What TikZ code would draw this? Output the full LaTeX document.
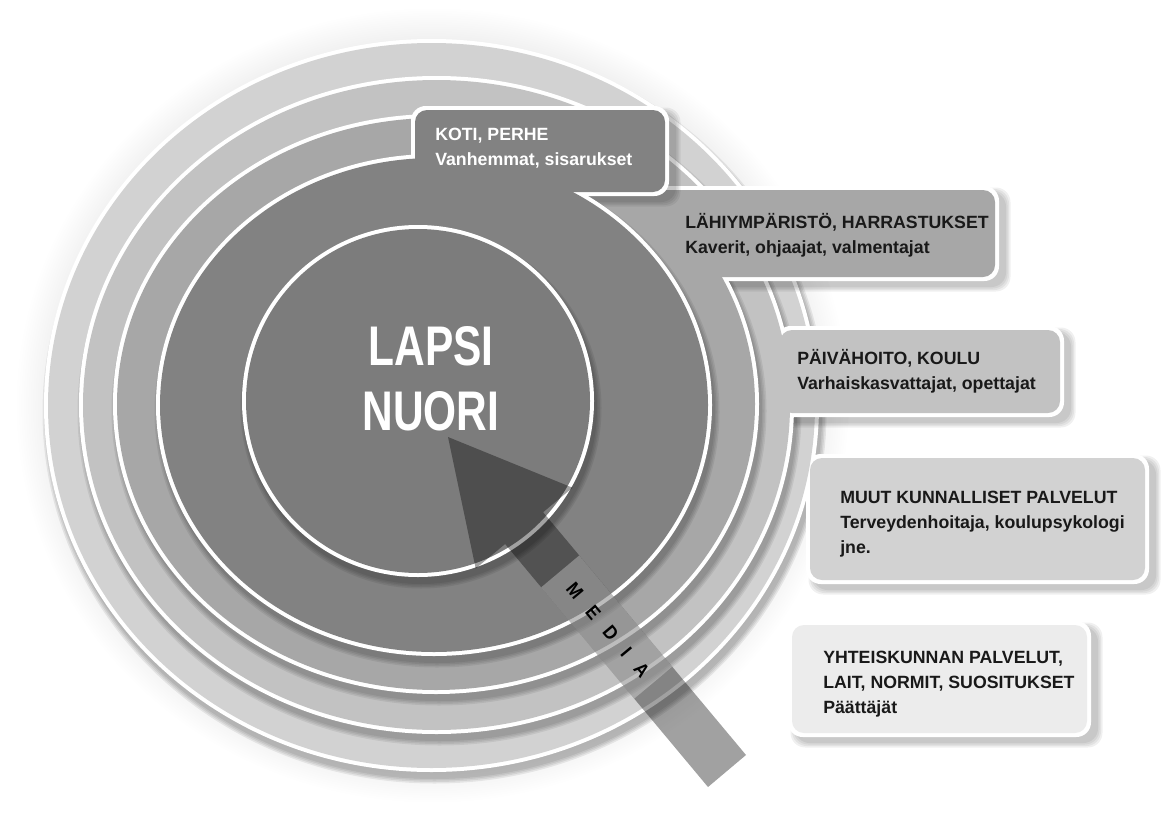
\documentclass[tikz,border=0pt]{standalone}
\usepackage{fontspec}
\setmainfont{Liberation Sans}
\newfontfamily\boxfont{Liberation Sans}
\newfontfamily\corefont[FakeStretch=0.76]{Liberation Sans}
\newfontfamily\mediafont[LetterSpace=80,FakeStretch=0.9]{Liberation Sans}

% ring and tab shades, from the centre outwards
\definecolor{coreC}{gray}{0.485}
\definecolor{ringB}{gray}{0.51}
\definecolor{ringC}{gray}{0.655}
\definecolor{ringD}{gray}{0.76}
\definecolor{ringE}{gray}{0.825}
\definecolor{ringF}{gray}{0.925}
\definecolor{inktext}{gray}{0.1}

\pgfdeclareradialshading{halofade}{\pgfpointorigin}{%
  color(0bp)=(ringF); color(22.3bp)=(ringF); color(25bp)=(white); color(50bp)=(white)}

% soft shadow that a ring casts down and to the right on the band below it:
% centre x, centre y, x radius, y radius of the white rim
\newcommand\castshadow[4]{%
  \foreach \g in {0,1.5,3,4.5}
    \fill[black, opacity=0.07] (#1+3,#2+7) ellipse [x radius=#3+\g, y radius=#4+\g];}

% soft shadow of a tab: corners of its white rim
\newcommand\tabshadow[4]{%
  \foreach \g in {0,1.5,3,4.5}
    \fill[black, opacity=0.06, rounded corners=11pt]
      (#1+7-\g,#2+6-\g) rectangle (#3+7+\g,#4+6+\g);}

\tikzset{
  tabcorner/.style={rounded corners=9pt},
  rimcorner/.style={rounded corners=11pt},
  % multi-line labels are placed by the baseline of their last line
  boxtxt/.style={font=\boxfont\bfseries\fontsize{13.3}{18.75}\selectfont,
      align=left, inner sep=0pt, anchor=base west, text=inktext},
}

\begin{document}
\begin{tikzpicture}[x=0.75pt,y=-0.75pt]
\useasboundingbox (0,0) rectangle (1167,821);

% outermost band: society, fading out
\shade[shading=halofade] (432,405) ellipse [x radius=417, y radius=398];
\tabshadow{788}{621}{1091}{737}
\fill[white, rimcorner] (788,621) rectangle (1091,737);
\fill[ringF, tabcorner] (792,625) rectangle (1087,733);

% other municipal services
\castshadow{431.5}{405.5}{387.5}{366.5}
\tabshadow{806}{454}{1149}{584}
\fill[white] (431.5,405.5) ellipse [x radius=387.5, y radius=366.5];
\fill[white, rimcorner] (806,454) rectangle (1149,584);
\fill[ringE] (431.5,405.5) ellipse [x radius=383.5, y radius=362.5];
\fill[ringE, tabcorner] (810,458) rectangle (1145,580);

% day care, school
\castshadow{436.5}{405}{357.5}{329}
\tabshadow{776}{326}{1064}{417}
\fill[white] (436.5,405) ellipse [x radius=357.5, y radius=329];
\fill[white, rimcorner] (776,326) rectangle (1064,417);
\fill[ringD] (436.5,405) ellipse [x radius=353.5, y radius=325];
\fill[ringD, tabcorner] (780,330) rectangle (1060,413);

% neighbourhood, hobbies
\castshadow{436}{404}{323}{290}
\tabshadow{536}{186}{999}{281}
\fill[white] (436,404) ellipse [x radius=323, y radius=290];
\fill[white, rimcorner] (536,186) rectangle (999,281);
\fill[ringC] (436,404) ellipse [x radius=319, y radius=286];
\fill[ringC, tabcorner] (540,190) rectangle (995,277);

% home, family
\castshadow{434}{405}{278}{251}
\tabshadow{411}{106}{669}{196}
\fill[white] (434,405) ellipse [x radius=278, y radius=251];
\fill[white, rimcorner] (411,106) rectangle (669,196);
\fill[ringB] (434,405) ellipse [x radius=274, y radius=247];
\fill[ringB, tabcorner] (415,110) rectangle (665,192);

% the child in the centre
\castshadow{418}{401}{176}{176}
\fill[white] (418,401) circle [radius=176];
\fill[coreC] (418,401) circle [radius=172];

\node[font=\corefont\bfseries\fontsize{41.9}{48.75}\selectfont, text=white,
      align=center, inner sep=0pt, anchor=base] (core) at (431,430)
      {LAPSI\\NUORI};

% tab texts
\node[boxtxt, text=white] (koti) at (435,165) {KOTI, PERHE\\Vanhemmat, sisarukset};
\node[boxtxt] (lahi) at (685,253) {LÄHIYMPÄRISTÖ, HARRASTUKSET\\Kaverit, ohjaajat, valmentajat};
\node[boxtxt] (paiva) at (797,389) {PÄIVÄHOITO, KOULU\\Varhaiskasvattajat, opettajat};
\node[boxtxt] (muut) at (840,553) {MUUT KUNNALLISET PALVELUT\\Terveydenhoitaja, koulupsykologi\\jne.};
\node[boxtxt] (yht) at (823,713) {YHTEISKUNNAN PALVELUT,\\LAIT, NORMIT, SUOSITUKSET\\Päättäjät};

% media arrow, translucent over the rings
\fill[black, opacity=0.37]
  (448,437) -- (572.5,487.7) -- (543.1,512.2) -- (746,755) -- (708,787)
  -- (505.1,544.0) -- (475.7,568.5) -- cycle;
\fill[white, opacity=0.3]
  (579.2,555.5) -- (672.2,666.8) -- (634.2,698.6) -- (541.2,587.3) -- cycle;
\node[font=\mediafont\bfseries\fontsize{14.5}{16}\selectfont, text=black,
      rotate=-50.1, inner sep=0pt] (media) at (608,630) {MEDIA};
\end{tikzpicture}
\end{document}
